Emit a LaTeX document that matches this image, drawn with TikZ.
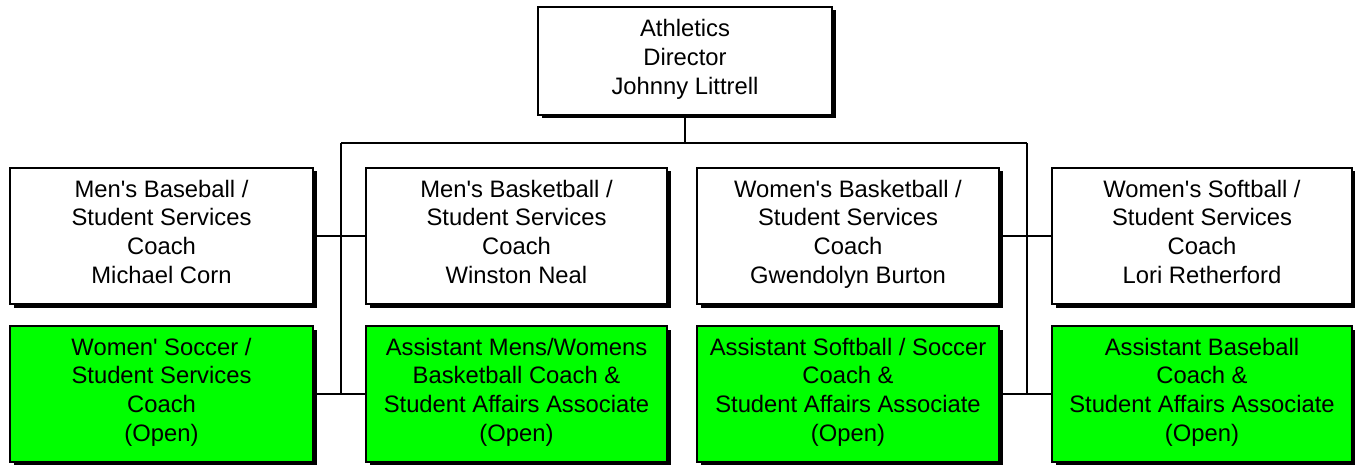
\documentclass[tikz,border=0pt]{standalone}
\usepackage{fontspec}
\setmainfont{Liberation Sans}[Ligatures=TeXOff]
\usetikzlibrary{shadows}
\definecolor{boxgreen}{RGB}{0,255,0}
\begin{document}
\begin{tikzpicture}[x=1pt,y=-1pt,
  box/.style={draw=black,line width=1.6pt,fill=white,rectangle,inner sep=0pt,
    align=center,minimum height=136pt,
    font=\fontsize{23.8}{28.7}\selectfont,
    execute at begin node={\rule{0pt}{\dimexpr0.7\baselineskip+5pt\relax}},
    execute at end node=\strut,
    drop shadow={shadow xshift=3.5pt,shadow yshift=-3.5pt,fill=black,opacity=1}},
  gbox/.style={box,fill=boxgreen},
  conn/.style={line width=1.6pt,draw=black}]
\useasboundingbox (0,0) rectangle (1355,465);
\node[box,minimum width=294pt,minimum height=108pt] (top) at (685,61) {Athletics\\Director\\Johnny Littrell};
\node[box,minimum width=303pt] (b1) at (161.5,236) {Men's Baseball /\\Student Services\\Coach\\Michael Corn};
\node[box,minimum width=301pt] (b2) at (516.5,236) {Men's Basketball /\\Student Services\\Coach\\Winston Neal};
\node[box,minimum width=302pt] (b3) at (848,236) {Women's Basketball /\\Student Services\\Coach\\Gwendolyn Burton};
\node[box,minimum width=300pt] (b4) at (1202,236) {Women's Softball /\\Student Services\\Coach\\Lori Retherford};
\node[gbox,minimum width=303pt] (g1) at (161.5,394) {Women' Soccer /\\Student Services\\Coach\\(Open)};
\node[gbox,minimum width=301pt] (g2) at (516.5,394) {Assistant Mens/Womens\\Basketball Coach \&\\Student Affairs Associate\\(Open)};
\node[gbox,minimum width=302pt] (g3) at (848,394) {Assistant Softball / Soccer\\Coach \&\\Student Affairs Associate\\(Open)};
\node[gbox,minimum width=300pt] (g4) at (1202,394) {Assistant Baseball\\Coach \&\\Student Affairs Associate\\(Open)};
\coordinate (j) at (685,143);
\coordinate (hl) at (341,143);
\coordinate (hr) at (1027,143);
\coordinate (vl) at (341,394);
\coordinate (vr) at (1027,394);
\draw[conn] (top.south) -- (j);
\draw[conn] (hl) -- (hr);
\draw[conn] (hl) -- (vl);
\draw[conn] (hr) -- (vr);
\draw[conn] (b1.east) -- (b2.west);
\draw[conn] (b3.east) -- (b4.west);
\draw[conn] (g1.east) -- (g2.west);
\draw[conn] (g3.east) -- (g4.west);
\end{tikzpicture}
\end{document}
